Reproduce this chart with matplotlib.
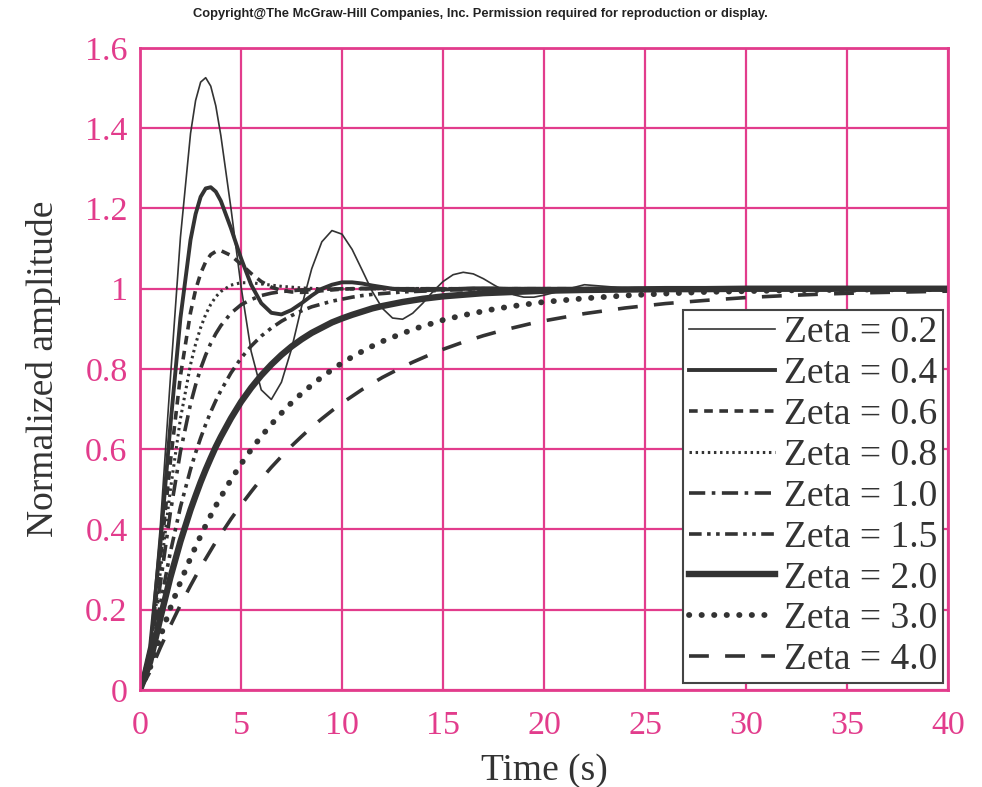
import matplotlib
matplotlib.use('Agg')
import matplotlib.pyplot as plt

# sample times (s)
time = [0, 0.5, 1, 1.5, 2, 2.5, 2.75, 3, 3.25, 3.5, 3.75, 4, 4.5, 5, 5.5, 6, 6.5, 7, 7.5,
        8, 8.5, 9, 9.5, 10, 10.5, 11, 11.5, 12, 12.5, 13, 13.5, 14, 14.5, 15, 15.5, 16,
        16.5, 17, 17.5, 18, 18.5, 19, 19.5, 20, 22, 24, 26, 28, 30, 32, 34, 36, 38, 40]

zeta_02 = [0, 0.115, 0.405, 0.775, 1.128, 1.387, 1.469, 1.515, 1.526, 1.505, 1.456, 1.382,
           1.201, 1.006, 0.844, 0.748, 0.724, 0.767, 0.850, 0.956, 1.050, 1.117, 1.145, 1.136,
           1.098, 1.046, 0.993, 0.951, 0.927, 0.924, 0.939, 0.964, 0.993, 1.018, 1.035, 1.041,
           1.037, 1.025, 1.010, 0.996, 0.985, 0.979, 0.979, 0.984, 1.010, 1.002, 0.994, 1.002,
           1.002, 0.998, 1.0, 1.0, 1.0, 1.0]
zeta_04 = [0, 0.108, 0.360, 0.658, 0.927, 1.122, 1.186, 1.229, 1.250, 1.253, 1.242, 1.219,
           1.151, 1.076, 1.010, 0.964, 0.940, 0.936, 0.947, 0.964, 0.983, 1.000, 1.010, 1.016,
           1.016, 1.013, 1.008, 1.004, 1.000, 0.997, 0.996, 0.996, 0.997, 0.998, 0.999, 1.000,
           1.001, 1.001, 1.001, 1.0, 1.0, 1.0, 1.0, 1.0, 1.0, 1.0, 1.0, 1.0,
           1.0, 1.0, 1.0, 1.0, 1.0, 1.0]
zeta_06 = [0, 0.101, 0.322, 0.568, 0.783, 0.941, 0.997, 1.038, 1.067, 1.085, 1.093, 1.095,
           1.083, 1.061, 1.038, 1.018, 1.004, 0.996, 0.992, 0.991, 0.992, 0.995, 0.997, 0.999,
           1.000, 1.001, 1.001, 1.001, 1.0, 1.0, 1.0, 1.0, 1.0, 1.0, 1.0, 1.0,
           1.0, 1.0, 1.0, 1.0, 1.0, 1.0, 1.0, 1.0, 1.0, 1.0, 1.0, 1.0,
           1.0, 1.0, 1.0, 1.0, 1.0, 1.0]
zeta_08 = [0, 0.096, 0.291, 0.498, 0.676, 0.811, 0.862, 0.903, 0.936, 0.961, 0.980, 0.993,
           1.009, 1.015, 1.015, 1.012, 1.009, 1.006, 1.004, 1.002, 1.001, 1.0, 1.0, 1.0,
           1.0, 1.0, 1.0, 1.0, 1.0, 1.0, 1.0, 1.0, 1.0, 1.0, 1.0, 1.0,
           1.0, 1.0, 1.0, 1.0, 1.0, 1.0, 1.0, 1.0, 1.0, 1.0, 1.0, 1.0,
           1.0, 1.0, 1.0, 1.0, 1.0, 1.0]
zeta_10 = [0, 0.090, 0.264, 0.442, 0.594, 0.713, 0.760, 0.801, 0.835, 0.864, 0.888, 0.908,
           0.939, 0.960, 0.973, 0.983, 0.989, 0.993, 0.995, 0.997, 0.998, 0.999, 0.999, 1.0,
           1.0, 1.0, 1.0, 1.0, 1.0, 1.0, 1.0, 1.0, 1.0, 1.0, 1.0, 1.0,
           1.0, 1.0, 1.0, 1.0, 1.0, 1.0, 1.0, 1.0, 1.0, 1.0, 1.0, 1.0,
           1.0, 1.0, 1.0, 1.0, 1.0, 1.0]
zeta_15 = [0, 0.079, 0.213, 0.343, 0.456, 0.550, 0.591, 0.628, 0.662, 0.693, 0.721, 0.746,
           0.790, 0.827, 0.857, 0.882, 0.902, 0.919, 0.933, 0.945, 0.955, 0.962, 0.969, 0.974,
           0.979, 0.983, 0.986, 0.988, 0.990, 0.992, 0.993, 0.994, 0.995, 0.996, 0.997, 0.997,
           0.998, 0.998, 0.999, 0.999, 0.999, 0.999, 0.999, 0.999, 1.0, 1.0, 1.0, 1.0,
           1.0, 1.0, 1.0, 1.0, 1.0, 1.0]
zeta_20 = [0, 0.070, 0.178, 0.280, 0.370, 0.449, 0.484, 0.518, 0.549, 0.578, 0.606, 0.631,
           0.677, 0.718, 0.753, 0.784, 0.811, 0.835, 0.856, 0.874, 0.890, 0.903, 0.916, 0.926,
           0.935, 0.943, 0.951, 0.957, 0.962, 0.967, 0.971, 0.975, 0.978, 0.981, 0.983, 0.985,
           0.987, 0.989, 0.990, 0.991, 0.992, 0.993, 0.994, 0.995, 0.997, 0.998, 0.999, 0.999,
           1.0, 1.0, 1.0, 1.0, 1.0, 1.0]
zeta_30 = [0, 0.056, 0.132, 0.204, 0.269, 0.329, 0.357, 0.384, 0.410, 0.435, 0.459, 0.481,
           0.524, 0.563, 0.599, 0.632, 0.662, 0.690, 0.716, 0.739, 0.760, 0.780, 0.798, 0.815,
           0.830, 0.844, 0.857, 0.869, 0.879, 0.889, 0.898, 0.907, 0.914, 0.922, 0.928, 0.934,
           0.939, 0.944, 0.949, 0.953, 0.957, 0.960, 0.964, 0.967, 0.976, 0.983, 0.988, 0.992,
           0.994, 0.996, 0.997, 0.998, 0.999, 0.999]
zeta_40 = [0, 0.046, 0.105, 0.160, 0.212, 0.260, 0.283, 0.306, 0.327, 0.348, 0.369, 0.388,
           0.426, 0.461, 0.494, 0.526, 0.555, 0.582, 0.608, 0.632, 0.655, 0.676, 0.696, 0.715,
           0.732, 0.749, 0.764, 0.779, 0.792, 0.805, 0.817, 0.828, 0.839, 0.849, 0.858, 0.867,
           0.875, 0.883, 0.890, 0.897, 0.903, 0.909, 0.915, 0.920, 0.938, 0.952, 0.963, 0.971,
           0.978, 0.983, 0.987, 0.990, 0.992, 0.994]

labels = ['Zeta = 0.2', 'Zeta = 0.4', 'Zeta = 0.6', 'Zeta = 0.8', 'Zeta = 1.0',
          'Zeta = 1.5', 'Zeta = 2.0', 'Zeta = 3.0', 'Zeta = 4.0']
series = [zeta_02, zeta_04, zeta_06, zeta_08, zeta_10, zeta_15, zeta_20, zeta_30, zeta_40]

x_ticks = [0, 5, 10, 15, 20, 25, 30, 35, 40]
y_ticks = [0, 0.2, 0.4, 0.6, 0.8, 1.0, 1.2, 1.4, 1.6]
y_ticklabels = ['0', '0.2', '0.4', '0.6', '0.8', '1', '1.2', '1.4', '1.6']

pink = '#e23c8c'
ink = '#333333'
serif = ['Liberation Serif', 'DejaVu Serif']

styles = [
    dict(lw=1.2, ls='-'),
    dict(lw=2.8, ls='-'),
    dict(lw=2.6, ls=(0, (2.4, 1.8))),
    dict(lw=2.2, ls=(0, (0.8, 1.2))),
    dict(lw=2.6, ls=(0, (4.5, 1.8, 1.0, 1.8))),
    dict(lw=2.6, ls=(0, (3.5, 1.5, 1.0, 1.5, 1.0, 1.5))),
    dict(lw=4.6, ls='-'),
    dict(lw=4.2, ls=(0, (0.05, 2.1)), dash_capstyle='round'),
    dict(lw=2.6, ls=(0, (5.5, 4.5))),
]

fig = plt.figure(figsize=(9.82, 7.87), dpi=100)
ax = fig.add_axes([0.1426, 0.1233, 0.8228, 0.8157])

for vals, lab, st in zip(series, labels, styles):
    ax.plot(time, vals, color=ink, label=lab, **st)

ax.set_xlim(0, 40)
ax.set_ylim(0, 1.6)
ax.set_xticks(x_ticks)
ax.set_yticks(y_ticks)
ax.set_yticklabels(y_ticklabels)
ax.set_axisbelow(True)
ax.grid(True, color=pink, lw=1.6)
for sp in ax.spines.values():
    sp.set_color(pink)
    sp.set_linewidth(2)
ax.tick_params(length=0, colors=pink, labelsize=24.5)
ax.tick_params(axis='x', pad=15)
ax.tick_params(axis='y', pad=9)
for t in ax.get_xticklabels() + ax.get_yticklabels():
    t.set_family(serif)

ax.set_xlabel('Time (s)', fontsize=27, color=ink, family=serif, labelpad=9)
ax.set_ylabel('Normalized amplitude', fontsize=27, color=ink, family=serif, labelpad=17)

leg = ax.legend(loc='lower right', bbox_to_anchor=(0.994, 0.011), borderaxespad=0,
                prop={'family': serif, 'size': 27}, labelcolor=ink, fancybox=False,
                framealpha=1, edgecolor='#444444', handlelength=2.3, handletextpad=0.25,
                labelspacing=0.17, borderpad=0.15)
leg.get_frame().set_linewidth(1.5)

fig.text(0.489, 0.982,
         'Copyright@The McGraw-Hill Companies, Inc. Permission required for reproduction or display.',
         ha='center', va='center', fontsize=9.3, weight='bold', color='#222222',
         family=['Liberation Sans Narrow', 'Liberation Sans', 'DejaVu Sans'])

fig.savefig('out.png', dpi=100)
